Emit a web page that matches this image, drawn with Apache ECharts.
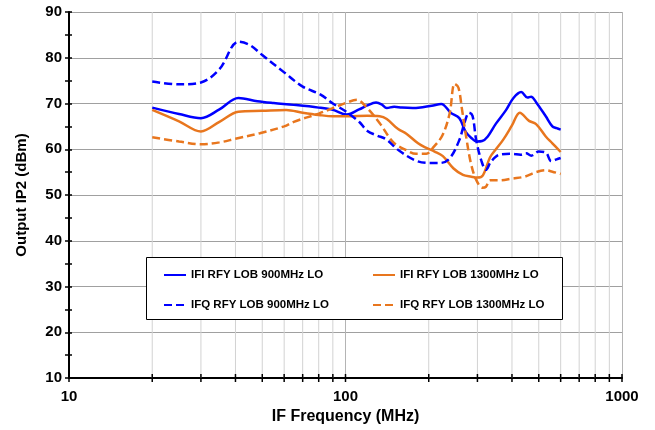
<!DOCTYPE html>
<html>
<head>
<meta charset="utf-8">
<script src="https://cdn.jsdelivr.net/npm/echarts@6/dist/echarts.min.js"></script>
<style>
  html, body { margin: 0; padding: 0; background: #fff; }
  #chart { width: 655px; height: 430px; }
</style>
</head>
<body>
<div id="chart"></div>
<script>
// ==================== DATA ====================
const seriesNames = [
  'IFI RFY LOB 900MHz LO',
  'IFI RFY LOB 1300MHz LO',
  'IFQ RFY LOB 900MHz LO',
  'IFQ RFY LOB 1300MHz LO'
];

// IFI, 900MHz LO (solid blue)
const ifi900Freq = [20, 25, 30, 35, 41, 48, 55, 65, 80, 90, 101, 112, 120, 129, 135, 141, 150, 160, 175, 190, 205, 222, 240, 258, 272, 286, 298, 312, 327, 350, 380, 405, 432, 455, 469, 489, 530, 560, 580, 600];
const ifi900Val  = [69.1, 67.7, 66.8, 68.7, 71.2, 70.5, 70.1, 69.7, 69.1, 68.6, 67.6, 68.7, 69.6, 70.2, 69.8, 69.0, 69.3, 69.1, 69.0, 69.2, 69.5, 69.9, 68.0, 66.8, 63.8, 62.4, 61.7, 61.8, 62.8, 65.6, 68.5, 71.2, 72.5, 71.3, 71.5, 70.3, 67.2, 65.0, 64.6, 64.3];

// IFI, 1300MHz LO (solid orange)
const ifi1300Freq = [20, 25, 30, 35, 41, 50, 61, 70, 80, 90, 102, 120, 133, 141, 155, 166, 183, 196, 210, 225, 246, 266, 285, 300, 314, 333, 350, 372, 400, 427, 461, 489, 530, 560, 600];
const ifi1300Val  = [68.6, 66.1, 63.9, 66.0, 68.2, 68.4, 68.6, 68.0, 67.5, 67.2, 67.2, 67.3, 67.2, 66.6, 64.4, 63.4, 61.3, 60.3, 59.5, 58.5, 55.8, 54.4, 54.0, 53.8, 54.3, 58.2, 60.0, 62.1, 65.2, 68.0, 66.2, 65.5, 62.8, 61.3, 59.4];

// IFQ, 900MHz LO (dashed blue)
const ifq900Freq = [20, 25, 30, 35, 41, 45, 50, 60, 70, 81, 90, 100, 112, 120, 130, 140, 157, 180, 200, 220, 238, 258, 270, 280, 288, 297, 310, 322, 336, 360, 400, 430, 450, 470, 500, 530, 555, 580, 600];
const ifq900Val  = [74.8, 74.2, 74.6, 77.5, 83.5, 82.8, 80.6, 76.8, 73.7, 72.0, 70.0, 68.3, 66.0, 64.0, 63.0, 62.2, 59.6, 57.5, 57.0, 57.0, 58.0, 62.0, 66.0, 68.0, 67.3, 62.0, 57.5, 55.5, 57.3, 58.8, 59.0, 58.8, 59.1, 58.6, 59.5, 59.3, 57.4, 57.8, 58.1];

// IFQ, 1300MHz LO (dashed orange)
const ifq1300Freq = [20, 25, 30, 35, 40, 49, 60, 65, 80, 90, 100, 110, 119, 133, 149, 166, 180, 196, 207, 224, 238, 248, 256, 264, 273, 284, 297, 313, 322, 333, 361, 402, 444, 489, 530, 560, 600];
const ifq1300Val  = [62.6, 61.7, 61.1, 61.5, 62.3, 63.5, 65.0, 66.0, 67.8, 69.0, 70.1, 70.8, 69.2, 65.7, 61.5, 59.8, 59.0, 59.0, 60.3, 63.0, 67.8, 74.3, 73.5, 68.6, 62.8, 57.0, 53.3, 51.6, 51.8, 53.2, 53.2, 53.6, 54.0, 55.0, 55.4, 55.1, 54.6];

// axes
const yMin = 10, yMax = 90, yStep = 10;
const xMin = 10, xMax = 1000;
const xTickFreqs = [10, 20, 30, 40, 50, 60, 70, 80, 90, 100, 200, 300, 400, 500, 600, 700, 800, 900, 1000];

// ==================== CHART ====================
const FONT = '"Liberation Sans", Arial, sans-serif';
const BLUE = '#0000ff', ORANGE = '#e8761e';
const chart = echarts.init(document.getElementById('chart'), null, { renderer: 'canvas' });

const pairs = (f, v) => f.map((x, i) => [x, v[i]]);

function curve(name, freq, val, color, dashed) {
  return {
    name, type: 'line', data: pairs(freq, val),
    smooth: 0.35, symbol: 'none', z: 5,
    lineStyle: { color, width: 2.5, type: dashed ? [8, 4] : 'solid' },
    itemStyle: { color }
  };
}

const isDecade = v => Math.abs(Math.log10(v) - Math.round(Math.log10(v))) < 1e-9;

const legendBase = {
  orient: 'vertical', top: 264, itemGap: 18, z: 20,
  itemWidth: 22, itemHeight: 14,
  itemStyle: { opacity: 0 },
  textStyle: { fontFamily: FONT, fontWeight: 'bold', fontSize: 11.5, color: '#000' }
};

chart.setOption({
  backgroundColor: '#fff',
  animation: false,
  grid: { left: 69, right: 33, top: 12, bottom: 52 },
  xAxis: {
    type: 'log', logBase: 10, min: xMin, max: xMax,
    name: 'IF Frequency (MHz)', nameLocation: 'middle', nameGap: 31,
    nameTextStyle: { fontFamily: FONT, fontWeight: 'bold', fontSize: 16, color: '#000' },
    axisLine: { show: true, onZero: false, lineStyle: { color: '#000', width: 2 } },
    axisTick: { show: false },
    axisLabel: { fontFamily: FONT, fontWeight: 'bold', fontSize: 15, color: '#000', margin: 11, formatter: v => String(v) },
    splitLine: { show: true, lineStyle: { color: '#b4b4b4', width: 1 } }
  },
  yAxis: [{
    type: 'value', min: yMin, max: yMax, interval: yStep,
    name: 'Output IP2 (dBm)', nameLocation: 'middle', nameGap: 40,
    nameTextStyle: { fontFamily: FONT, fontWeight: 'bold', fontSize: 15, color: '#000' },
    axisLine: { show: true, lineStyle: { color: '#000', width: 2 } },
    axisTick: { show: true, length: 4, lineStyle: { color: '#000', width: 1.5 } },
    minorTick: { show: true, splitNumber: 2, length: 4, lineStyle: { color: '#000', width: 1.5 } },
    axisLabel: { fontFamily: FONT, fontWeight: 'bold', fontSize: 15, color: '#000', margin: 7 },
    splitLine: { show: true, lineStyle: { color: '#a0a0a0', width: 1 } }
  }, {
    type: 'value', min: yMin, max: yMax, interval: yStep, position: 'left',
    axisLine: { show: false },
    axisTick: { show: true, inside: true, length: 3, lineStyle: { color: '#000', width: 1.5 } },
    minorTick: { show: true, splitNumber: 2, length: 3, lineStyle: { color: '#000', width: 1.5 } },
    axisLabel: { show: false },
    splitLine: { show: false }
  }],
  legend: [
    Object.assign({}, legendBase, { data: [seriesNames[0], seriesNames[2]], left: 158 }),
    Object.assign({}, legendBase, { data: [seriesNames[1], seriesNames[3]], left: 367 })
  ],
  graphic: [{
    type: 'rect', left: 146, top: 257, z: 10,
    shape: { width: 416, height: 62 },
    style: { fill: '#fff', stroke: '#000', lineWidth: 1 }
  }],
  series: [
    {
      // minor log grid lines and x ticks crossing the axis
      type: 'custom', silent: true, z: 1,
      data: xTickFreqs.map(f => [f, yMin]),
      encode: { x: 0, y: 1 },
      renderItem(params, api) {
        const v = api.value(0);
        const top = api.coord([v, yMax]);
        const bot = api.coord([v, yMin]);
        const children = [];
        if (!isDecade(v)) {
          children.push({ type: 'line', shape: { x1: top[0], y1: top[1], x2: bot[0], y2: bot[1] },
            style: { stroke: '#d2d2d2', lineWidth: 1 } });
        }
        children.push({ type: 'line', shape: { x1: bot[0], y1: bot[1] - 4, x2: bot[0], y2: bot[1] + 4 },
          style: { stroke: '#000', lineWidth: 1.5 } });
        return { type: 'group', children };
      }
    },
    curve(seriesNames[0], ifi900Freq, ifi900Val, BLUE, false),
    curve(seriesNames[1], ifi1300Freq, ifi1300Val, ORANGE, false),
    curve(seriesNames[2], ifq900Freq, ifq900Val, BLUE, true),
    curve(seriesNames[3], ifq1300Freq, ifq1300Val, ORANGE, true)
  ]
});
</script>
</body>
</html>
